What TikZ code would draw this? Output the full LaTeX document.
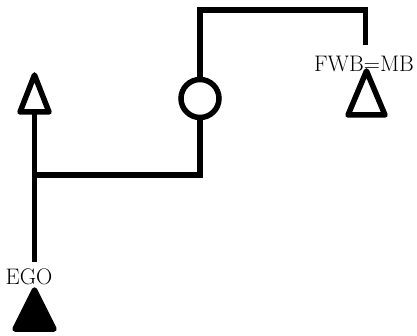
\documentclass[tikz,border=0pt]{standalone}
\begin{document}
\begin{tikzpicture}[x=1pt,y=-1pt,
  kin/.style={line width=5.5pt,line join=miter},
  sym/.style={line width=5.5pt,line join=round},
  lbl/.style={inner sep=0pt,font=\fontsize{22.5}{27}\selectfont}]
\useasboundingbox (0,0) rectangle (417,336);
% anchor points of the symbols
\coordinate (ma) at (34.5,75);   \coordinate (mb) at (34.5,112);
\coordinate (ea) at (34.5,290);  \coordinate (ra) at (366.5,71);
\coordinate (rb) at (365.5,115);
\coordinate (stem) at (34.5,262);
\coordinate (j) at (34.5,175);
\coordinate (k) at (200,175);
\coordinate (t1) at (200,10);
\coordinate (t2) at (365.5,10);
\coordinate (t3) at (365.5,45);
% male sibling (open triangle)
\draw[sym] (ma) -- (20,112) -- (49,112) -- cycle;
% ego (filled triangle)
\filldraw[sym] (ea) -- (15,329) -- (54,329) -- cycle;
% female (circle)
\node[circle,draw,line width=5.5pt,minimum size=38pt,inner sep=0pt] (f) at (200,98.5) {};
% FWB=MB (open triangle)
\draw[sym] (ra) -- (348,115) -- (385,115) -- cycle;
% labels
\node[lbl] (ego) at (29,277) {EGO};
\node[lbl] (fwb) at (364,64) {FWB=MB};
% connectors
\draw[kin] (mb) -- (stem);
\draw[kin] (j) -- (k) -- (f.south);
\draw[kin] (f.north) -- (t1) -- (t2) -- (t3);
\end{tikzpicture}
\end{document}
